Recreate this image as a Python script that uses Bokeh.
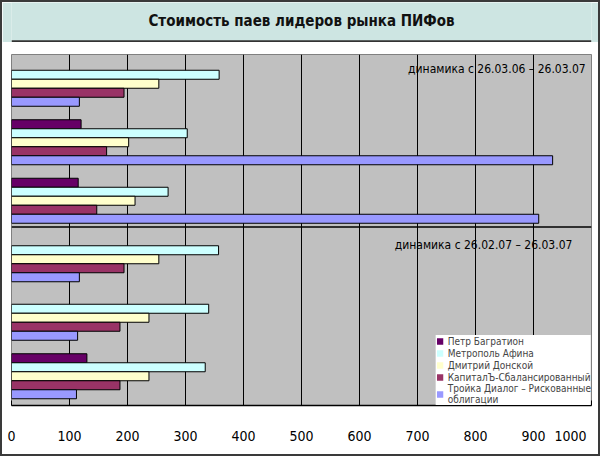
from bokeh.plotting import figure
from bokeh.models import Range1d, FixedTicker, Label, Span, Legend, LegendItem, ColumnDataSource
from bokeh.layouts import column
from bokeh.embed import file_html
from bokeh.resources import INLINE
from bokeh.transform import dodge

# ---------------- data ----------------
title_text = "Стоимость паев лидеров рынка ПИФов"
groups = [0, 1, 2, 3, 4, 5]  # top to bottom
series_names = ["Петр Багратион", "Метрополь Афина", "Дмитрий Донской",
                "КапиталЪ-Сбалансированный", "Тройка Диалог – Рискованные\nоблигации"]
petr = [None, 120, 115, None, None, 130]
metropol = [358, 303, 270, 357, 340, 334]
donskoy = [254, 202, 213, 254, 237, 237]
kapital = [194, 164, 147, 194, 187, 187]
troika = [117, 933, 909, 117, 114, 112]
period_labels = ["динамика с 26.03.06 – 26.03.07", "динамика с 26.02.07 – 26.03.07"]
x_ticks = [0, 100, 200, 300, 400, 500, 600, 700, 800, 900, 1000]

colors = ["#660066", "#ccffff", "#ffffcc", "#993366", "#9999ff"]
FONT = "'DejaVu Sans Condensed', Roboto, sans-serif"

# ---------------- title band ----------------
t = figure(width=596, height=40, x_range=Range1d(0, 1), y_range=Range1d(0, 1),
           min_border=0, x_axis_location=None, y_axis_location=None,
           toolbar_location=None, output_backend="svg")
t.background_fill_color = "#cde5e2"
t.border_fill_color = "#cde5e2"
t.outline_line_color = None
t.xgrid.visible = False
t.ygrid.visible = False
t.add_layout(Label(x=0.5, y=0.55, text=title_text, text_align="center", text_baseline="middle",
                   text_font=FONT, text_font_style="bold", text_font_size="15px",
                   text_color="#111111"))
t.add_layout(Span(location=0.03, dimension="width", line_color="#333333", line_width=2))

# ---------------- main chart ----------------
p = figure(width=596, height=412, x_range=Range1d(0, 1000), y_range=Range1d(5.5, -0.5),
           min_border_left=9, min_border_right=7, min_border_top=12, min_border_bottom=49,
           y_axis_location=None, toolbar_location=None, output_backend="svg")
p.background_fill_color = "#c0c0c0"
p.border_fill_color = "white"
p.outline_line_color = "#808080"
p.outline_line_width = 1

slot = 9 / 58.5
all_series = [petr, metropol, donskoy, kapital, troika]
legend_items = []
for i, (vals, col, name) in enumerate(zip(all_series, colors, series_names)):
    ys = [g for g, v in zip(groups, vals) if v is not None]
    xs = [v for v in vals if v is not None]
    src = ColumnDataSource(dict(y=ys, right=xs))
    p.hbar(y=dodge("y", (i - 2) * slot, range=p.y_range), right="right", left=0,
           height=slot, source=src, fill_color=col, line_color="#000000", line_width=1)
    # swatch-only renderer (zero-width, borderless) so legend keys have no outline
    key = p.hbar(y=[0], right=[0], left=0, height=slot, fill_color=col, line_color=None)
    legend_items.append(LegendItem(label=name, renderers=[key]))

legend = Legend(items=legend_items, location="bottom_right", margin=0, padding=9,
                spacing=0, glyph_width=8, glyph_height=8, label_height=12, label_width=140,
                label_standoff=4, label_text_font=FONT, label_text_font_size="10px",
                label_text_line_height=1.1,
                background_fill_color="white", background_fill_alpha=1.0,
                border_line_color=None)
p.add_layout(legend)

p.xgrid.ticker = FixedTicker(ticks=x_ticks)
p.xgrid.grid_line_color = "#000000"
p.xgrid.grid_line_width = 1
p.ygrid.visible = False

ax = p.xaxis[0]
ax.ticker = FixedTicker(ticks=x_ticks)
ax.major_tick_in = 5
ax.major_tick_out = 0
ax.minor_tick_line_color = None
ax.axis_line_color = "#000000"
ax.axis_line_width = 1.5
ax.major_tick_line_color = "#000000"
ax.major_label_standoff = 22
ax.major_label_text_font = FONT
ax.major_label_text_font_size = "14px"
ax.major_label_text_color = "#000000"
# last label sits left of its tick in the original (trailing no-break spaces shift it)
ax.major_label_overrides = {1000: "1000" + "\u00a0" * 3}

p.add_layout(Span(location=2.45, dimension="width", line_color="#000000", line_width=1.5))

p.add_layout(Label(x=990, y=-0.26, text=period_labels[0], text_align="right",
                   text_baseline="middle", text_font=FONT, text_font_size="12px",
                   text_color="#000000"))
p.add_layout(Label(x=967, y=2.76, text=period_labels[1], text_align="right",
                   text_baseline="middle", text_font=FONT, text_font_size="12px",
                   text_color="#000000"))

layout = column(t, p, spacing=0, styles={"border": "2px solid #3a3a3a"})

open("out.html", "w").write(file_html(layout, INLINE))
